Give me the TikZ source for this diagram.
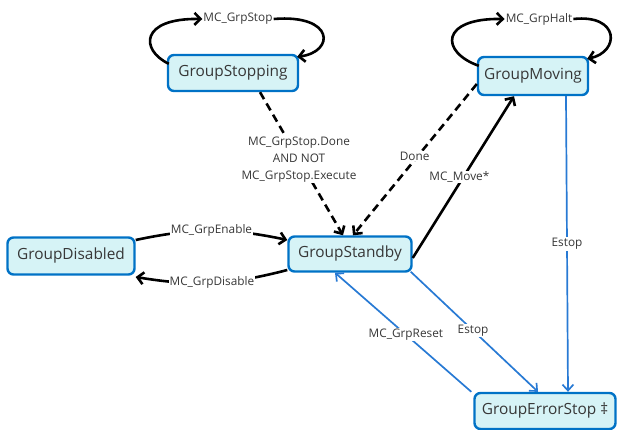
\documentclass[tikz,border=0pt]{standalone}
\usepackage{fontspec}
\setmainfont{Open Sans}
\usetikzlibrary{arrows.meta,calc}
\definecolor{boxfill}{RGB}{214,243,246}
\definecolor{boxline}{RGB}{0,114,198}
\definecolor{blueedge}{RGB}{40,122,212}
\definecolor{txt}{RGB}{55,55,55}
\tikzset{
  state/.style={draw=boxline, line width=2.4pt, fill=boxfill, rounded corners=6pt, inner sep=0pt, font=\fontsize{15.4}{17}\selectfont, text=txt},
  lbl/.style={fill=white, inner sep=1pt, font=\fontsize{11.8}{13}\selectfont, text=txt},
  blk/.style={draw=black, line width=2.6pt, -{Straight Barb[length=6pt,width=12pt]}},
  dsh/.style={blk, dash pattern=on 8pt off 5pt},
  blu/.style={draw=blueedge, line width=1.7pt, -{Straight Barb[length=6pt,width=11pt]}},
}
\begin{document}
\begin{tikzpicture}[x=1pt,y=-1pt]
\useasboundingbox (0,0) rectangle (622,430);
\node[state, minimum width=130pt, minimum height=36pt] (stop) at (233,73) {GroupStopping};
\node[state, minimum width=110pt, minimum height=38pt] (move) at (533,76) {GroupMoving};
\node[state, minimum width=127pt, minimum height=37pt] (dis) at (71,256) {GroupDisabled};
\node[state, minimum width=123pt, minimum height=35pt] (stb) at (350,254) {GroupStandby};
\node[state, minimum width=141pt, minimum height=36pt] (err) at (545,411) {GroupErrorStop ‡};

% self loops
\node[lbl] (lstop) at (238,19) {MC\_GrpStop};
\node[lbl] (lhalt) at (539,19) {MC\_GrpHalt};
\draw[blk] ([xshift=2pt,yshift=-10pt]stop.north west) .. controls (140,50) and (140,18) .. (lstop.west);
\draw[blk] (lstop.east) .. controls (335,14) and (335,52) .. ([xshift=-2pt,yshift=-3pt]stop.north east);
\draw[blk] ([xshift=2pt,yshift=-10pt]move.north west) .. controls (440,52) and (440,18) .. (lhalt.west);
\draw[blk] (lhalt.east) .. controls (620,14) and (620,52) .. ([xshift=-2pt,yshift=-3pt]move.north east);

% dashed into standby
\draw[dsh] ([xshift=27pt]stop.south) -- node[lbl, align=center, pos=0.47, font=\fontsize{11.8}{17}\selectfont] {MC\_GrpStop.Done\\AND NOT\\MC\_GrpStop.Execute} ([xshift=-7pt]stb.north);
\draw[dsh] ([yshift=-8pt]move.west) -- node[lbl, pos=0.47, xshift=-4pt, yshift=-1pt] {Done} ([xshift=3pt]stb.north);

% standby -> moving
\draw[blk] ([yshift=-4pt]stb.east) -- node[lbl, pos=0.5, xshift=-4pt] {MC\_Move*} ([xshift=-19pt]move.south);

% enable / disable
\draw[blk] ([yshift=16pt]dis.east) to[bend left=12] node[lbl] {MC\_GrpEnable} ([yshift=14pt]stb.west);
\draw[blk] ([yshift=-16pt]stb.west) to[bend left=12] node[lbl] {MC\_GrpDisable} ([yshift=-21pt]dis.east);

% blue edges
\draw[blu] ([xshift=33pt]move.south) -- node[lbl, pos=0.5] {Estop} ([xshift=23pt]err.north);
\draw[blu] ([xshift=-2pt,yshift=1pt]stb.south east) -- node[lbl, pos=0.49] {Estop} ([xshift=-7pt]err.north);
\draw[blu] ([xshift=-2pt]err.north west) -- node[lbl, pos=0.48] {MC\_GrpReset} ([xshift=-15pt]stb.south);
\end{tikzpicture}
\end{document}
